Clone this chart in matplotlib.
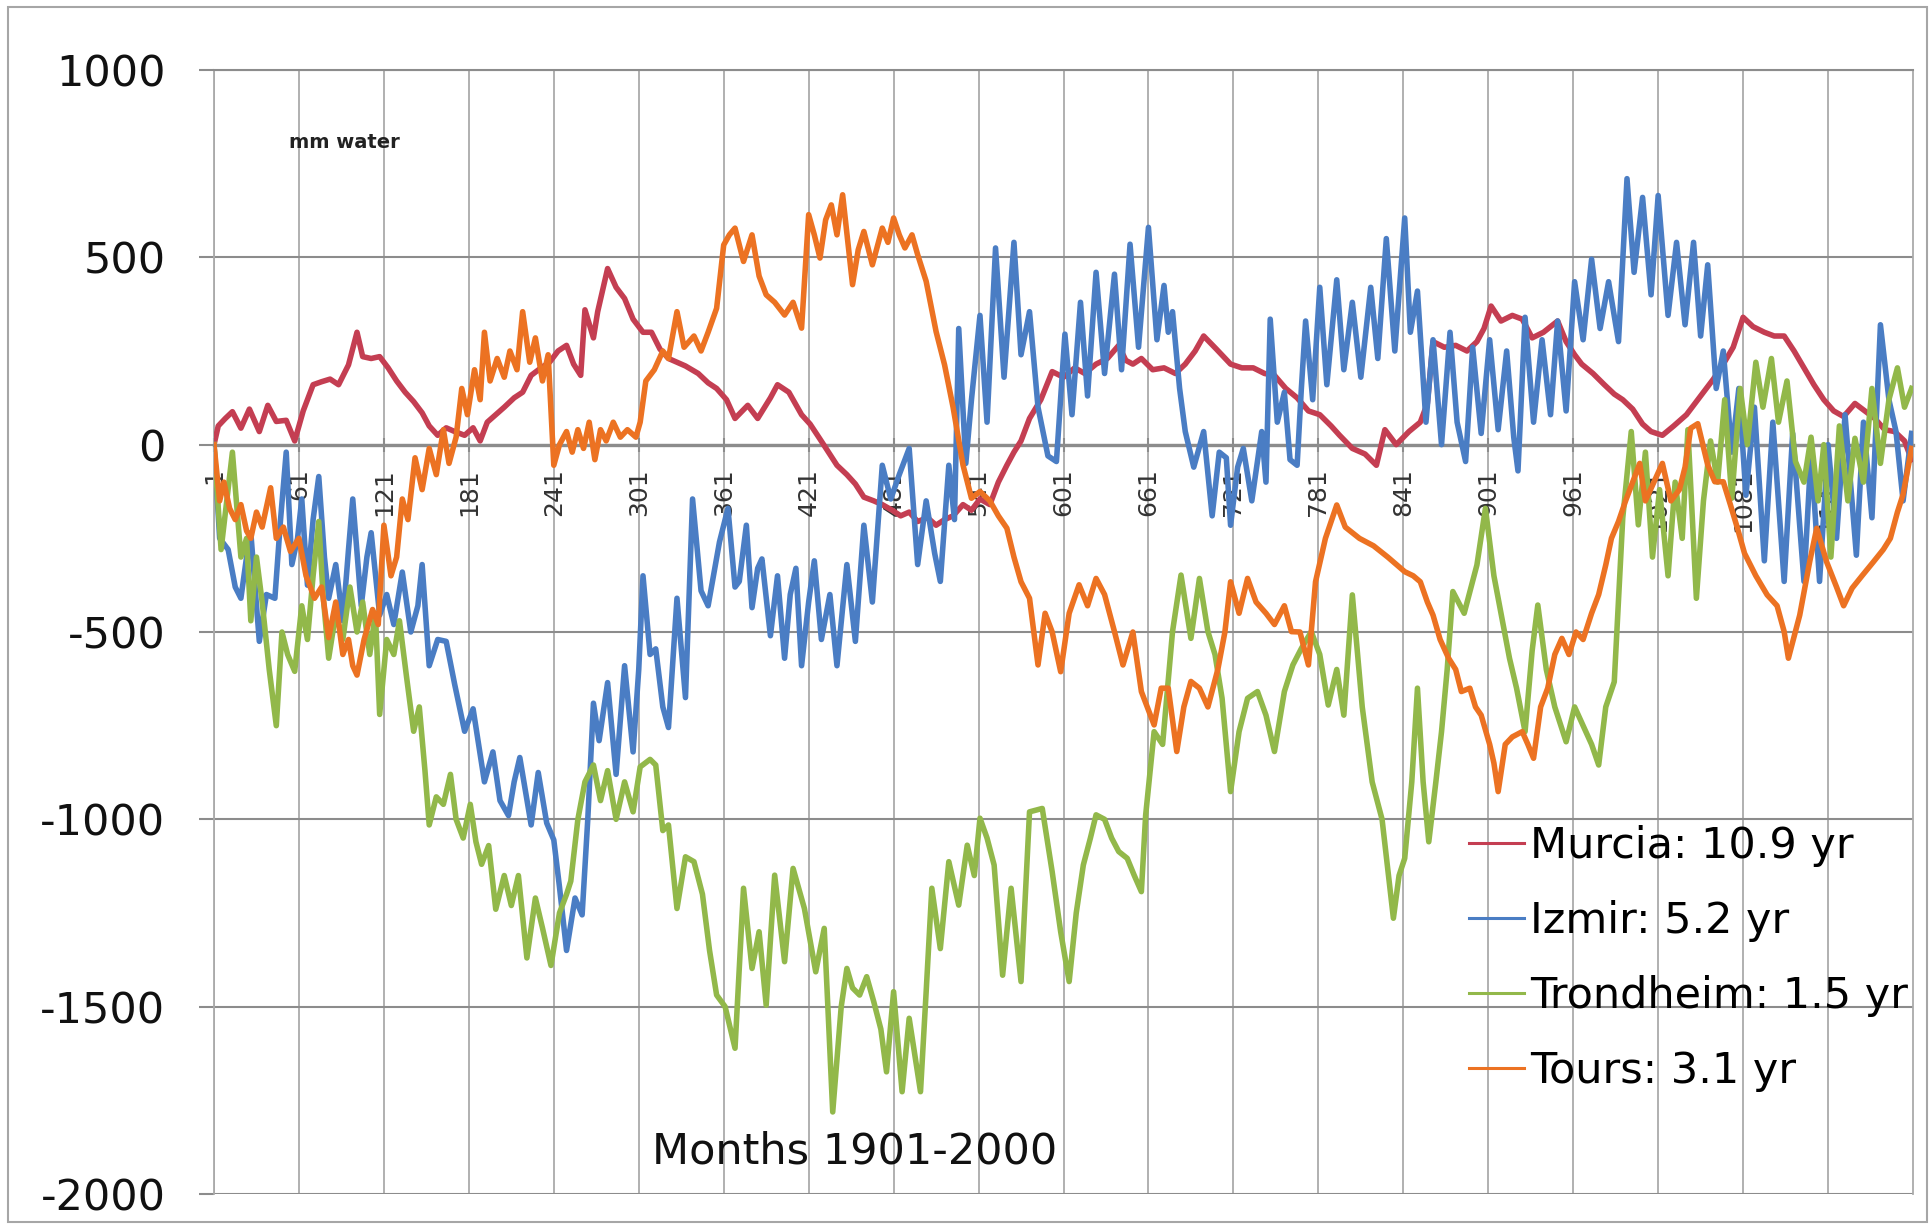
"""
四个站点 1901-2000 年逐月累积降水偏差 (mm water)
Murcia / Izmir / Trondheim / Tours
"""

import matplotlib
matplotlib.use('Agg')
import matplotlib.pyplot as plt
from matplotlib.patches import Rectangle

plt.rcParams['font.family'] = ['DejaVu Sans']
plt.rcParams['axes.unicode_minus'] = False

# ---- 数据：折线拐点 (月份序号, 累积偏差 mm) ----
murcia_month = [1, 4, 9, 14, 20, 26, 33, 39, 45, 52, 58, 64, 71, 77, 83, 89, 96, 102, 106, 112,
                118, 124, 130, 136, 142, 148, 153, 159, 165, 171, 178, 184, 189, 194, 200, 206, 213,
                219, 225, 232, 238, 244, 250, 255, 260, 263, 269, 272, 279, 285, 291, 297, 304, 310,
                316, 322, 334, 343, 350, 356, 363, 369, 378, 385, 394, 399, 407, 416, 422, 429, 435,
                441, 448, 454, 460, 467, 473, 480, 486, 492, 498, 505, 511, 517, 523, 530, 536, 542,
                549, 555, 561, 566, 571, 577, 585, 593, 601, 609, 616, 624, 632, 640, 645, 650, 656,
                664, 672, 680, 687, 694, 700, 709, 719, 727, 735, 743, 750, 758, 766, 774, 782, 790,
                796, 805, 814, 822, 828, 836, 845, 853, 858, 862, 870, 878, 886, 893, 898, 903, 910,
                918, 925, 932, 940, 950, 956, 962, 967, 975, 983, 990, 996, 1003, 1010, 1016, 1024,
                1032, 1041, 1047, 1053, 1060, 1067, 1074, 1081, 1088, 1096, 1103, 1110, 1117, 1124,
                1131, 1138, 1145, 1152, 1160, 1167, 1174, 1181, 1188, 1195, 1200]
murcia_mm = [0, 50, 70, 88, 44, 95, 35, 105, 62, 65, 10, 90, 160, 168, 175, 160, 213, 300, 235, 230,
             235, 205, 170, 140, 115, 85, 50, 25, 45, 35, 25, 45, 10, 60, 80, 100, 125,
             140, 185, 205, 220, 250, 265, 215, 185, 360, 285, 355, 470, 420, 390, 335, 300, 300,
             255, 230, 210, 190, 165, 150, 120, 70, 105, 70, 125, 160, 140, 80, 55, 15, -20,
             -55, -80, -105, -140, -150, -160, -175, -190, -180, -205, -195, -215, -200, -190, -160, -175, -145,
             -160, -100, -55, -20, 10, 70, 120, 195, 180, 205, 190, 215, 230, 265, 225, 215, 230,
             200, 205, 190, 215, 250, 290, 255, 215, 205, 205, 190, 185, 150, 125, 90, 80, 50,
             25, -10, -25, -55, 40, 0, 35, 60, 110, 275, 260, 265, 250, 275, 310, 370, 330,
             345, 335, 285, 300, 330, 275, 240, 215, 190, 160, 135, 120, 95, 55, 35, 25,
             50, 80, 110, 140, 175, 215, 260, 340, 315, 300, 290, 290, 250, 205,
             160, 120, 90, 75, 110, 90, 70, 40, 35, 10, -40]

izmir_month = [1, 5, 11, 16, 20, 24, 27, 33, 38, 44, 48, 52, 56, 60, 63, 67, 71, 75, 79, 82, 87, 92,
               96, 99, 105, 109, 112, 118, 123, 128, 134, 140, 145, 148, 153, 159, 165, 171, 178, 184,
               192, 198, 203, 209, 213, 217, 225, 230, 236, 241, 245, 250, 256, 261, 265, 269, 273,
               279, 285, 291, 297, 301, 304, 309, 313, 318, 322, 328, 334, 339, 345, 350, 358, 364,
               369, 372, 377, 381, 385, 388, 394, 399, 404, 408, 412, 416, 421, 425, 430, 436, 441,
               448, 454, 460, 466, 473, 479, 485, 492, 498, 504, 510, 514, 520, 524, 527, 532, 536,
               542, 547, 553, 559, 566, 571, 577, 583, 590, 596, 602, 607, 613, 618, 624, 630, 637,
               642, 648, 654, 661, 667, 672, 675, 678, 683, 687, 693, 700, 706, 711, 716, 719, 724,
               728, 734, 741, 744, 747, 752, 757, 761, 766, 769, 772, 777, 782, 787, 794, 799, 805,
               811, 818, 823, 829, 835, 842, 846, 851, 857, 862, 868, 874, 879, 885, 890, 896, 902,
               908, 914, 919, 922, 927, 933, 939, 945, 950, 956, 962, 968, 974, 980, 986, 993, 999,
               1004, 1010, 1016, 1021, 1028, 1034, 1040, 1046, 1051, 1056, 1062, 1067, 1073, 1078,
               1083, 1089, 1096, 1102, 1110, 1116, 1124, 1129, 1135, 1141, 1147, 1153, 1161, 1166,
               1172, 1178, 1184, 1189, 1194, 1200]
izmir_mm = [0, -250, -280, -380, -410, -300, -235, -525, -400, -410, -200, -20, -320, -250, -145, -375,
            -200, -85, -300, -410, -320, -470, -280, -145, -430, -300, -235, -455, -400, -480, -340,
            -500, -430, -320, -590, -520, -525, -640, -765, -705, -900, -820, -950, -990, -900, -835,
            -1015, -875, -1010, -1055, -1180, -1350, -1210, -1255, -1000, -690, -790, -635, -880, -590,
            -820, -600, -350, -560, -545, -700, -755, -410, -675, -145, -390, -430, -260, -170, -380,
            -365, -215, -435, -330, -305, -510, -350, -570, -400, -330, -590, -420, -310, -520, -400,
            -590, -320, -525, -215, -420, -55, -145, -80, -10, -320, -150, -290, -365, -55, -200, 310,
            -50, 120, 345, 60, 525, 180, 540, 240, 355, 100, -30, -45, 295, 80, 380, 130, 460, 190,
            455, 200, 535, 260, 580, 280, 425, 300, 355, 150, 35, -60, 35, -190, -20, -35, -215, -60,
            -10, -150, 35, -100, 335, 60, 140, -40, -55, 150, 330, 120, 420, 160, 440, 200, 380,
            180, 420, 230, 550, 250, 605, 300, 410, 60, 280, 0, 300, 60, -45, 260, 30, 280,
            40, 250, 20, -70, 340, 60, 280, 80, 330, 90, 435, 280, 495, 310, 435, 275, 710,
            460, 660, 400, 665, 345, 540, 320, 540, 290, 480, 150, 250, -20, 150,
            -135, 100, -310, 60, -365, 30, -365, -20, -365, 0, -250, 80, -295, 60,
            -195, 320, 120, 35, -150, 30]

trondheim_month = [1, 6, 10, 14, 20, 24, 27, 31, 35, 40, 45, 49, 53, 58, 63, 67, 71, 75, 78, 82, 87,
                   92, 97, 102, 106, 111, 115, 118, 123, 128, 132, 137, 142, 146, 150, 153, 158, 163,
                   168, 172, 177, 182, 186, 190, 195, 200, 206, 211, 216, 222, 228, 233, 239, 245, 250,
                   253, 258, 263, 269, 274, 279, 285, 291, 297, 302, 309, 313, 318, 322, 328, 334, 340,
                   346, 351, 356, 362, 369, 375, 381, 386, 391, 397, 404, 410, 418, 426, 432, 438, 444,
                   448, 452, 457, 462, 467, 472, 476, 481, 487, 492, 500, 504, 508, 514, 520, 527, 533,
                   538, 542, 547, 552, 558, 564, 571, 577, 586, 593, 599, 605, 610, 615, 620, 624, 630,
                   635, 640, 646, 651, 656, 659, 665, 671, 678, 684, 691, 697, 703, 708, 713, 719, 725,
                   731, 738, 744, 750, 757, 763, 769, 776, 782, 788, 794, 799, 805, 812, 819, 826, 834,
                   838, 842, 847, 851, 855, 859, 864, 868, 872, 876, 884, 893, 899, 905, 910, 916, 921,
                   927, 932, 936, 942, 948, 956, 962, 968, 974, 979, 984, 990, 996, 1002, 1007, 1012,
                   1017, 1022, 1028, 1033, 1038, 1042, 1048, 1053, 1058, 1063, 1068, 1073, 1079, 1084,
                   1090, 1095, 1101, 1106, 1112, 1118, 1124, 1129, 1134, 1138, 1143, 1149, 1155, 1160,
                   1166, 1172, 1178, 1184, 1190, 1195, 1200]
trondheim_mm = [0, -280, -150, -20, -300, -250, -470, -300, -420, -600, -750, -500, -560, -605, -430,
                -520, -350, -205, -400, -570, -450, -520, -380, -500, -420, -560, -450, -720, -520,
                -560, -470, -620, -765, -700, -870, -1015, -940, -960, -880, -1000, -1050, -960, -1060,
                -1120, -1070, -1240, -1150, -1230, -1150, -1370, -1210, -1290, -1390, -1250, -1200,
                -1165, -1000, -900, -855, -950, -870, -1000, -900, -980, -860, -840, -855, -1030,
                -1015, -1238, -1100, -1113, -1200, -1350, -1469, -1500, -1611, -1184, -1398, -1300,
                -1496, -1149, -1380, -1131, -1238, -1407, -1291, -1781, -1500, -1398, -1450, -1469,
                -1420, -1487, -1560, -1674, -1460, -1727, -1531, -1727, -1460, -1184, -1345, -1113,
                -1229, -1069, -1150, -997, -1050, -1122, -1416, -1184, -1433, -980, -971, -1140, -1300,
                -1433, -1250, -1122, -1050, -988, -1000, -1050, -1086, -1104, -1150, -1193, -990, -766,
                -800, -499, -348, -517, -357, -499, -560, -677, -926, -766, -677, -659, -722, -819,
                -659, -588, -544, -499, -560, -695, -600, -722, -401, -700, -900, -1000, -1264, -1150,
                -1104, -900, -650, -900, -1060, -900, -766, -600, -392, -450, -321, -170, -350, -450,
                -570, -650, -766, -550, -428, -600, -700, -793, -700, -750, -800, -855, -700, -633,
                -196, 35, -214, -20, -300, -120, -350, -100, -250, 40, -410, -150, 10, -100, 120,
                -143, 150, 0, 220, 100, 230, 60, 170, -45, -100, 20, -150, 0, -300, 50, -150, 17,
                -100, 150, -50, 120, 205, 100, 150]

tours_month = [1, 5, 8, 12, 16, 20, 24, 27, 31, 35, 41, 45, 50, 55, 61, 66, 72, 77, 82, 87, 92, 96,
               99, 102, 107, 113, 117, 121, 126, 130, 134, 138, 143, 148, 153, 158, 163, 167, 172, 176,
               180, 185, 189, 192, 196, 201, 206, 210, 215, 219, 224, 228, 233, 237, 241, 245, 250,
               254, 258, 262, 266, 270, 274, 278, 283, 288, 293, 299, 302, 306, 312, 318, 322, 328,
               333, 340, 345, 350, 356, 361, 365, 369, 375, 381, 386, 391, 397, 404, 410, 416, 421,
               425, 429, 433, 437, 441, 445, 452, 456, 460, 466, 473, 477, 481, 485, 489, 494, 498,
               504, 511, 517, 523, 530, 536, 542, 549, 555, 561, 566, 571, 577, 583, 588, 593, 599,
               605, 612, 618, 624, 630, 637, 643, 650, 656, 665, 670, 675, 681, 686, 691, 697, 703,
               710, 715, 719, 725, 731, 737, 744, 750, 757, 762, 768, 774, 779, 786, 794, 800, 810,
               820, 830, 842, 848, 853, 858, 862, 867, 873, 878, 882, 888, 892, 896, 902, 905, 908,
               913, 918, 925, 929, 933, 938, 943, 948, 953, 958, 963, 968, 974, 979, 984, 988, 993,
               998, 1003, 1008, 1012, 1018, 1024, 1030, 1036, 1040, 1044, 1049, 1056, 1061, 1067,
               1072, 1077, 1082, 1090, 1098, 1105, 1110, 1113, 1121, 1128, 1133, 1140, 1147, 1152,
               1158, 1165, 1173, 1180, 1185, 1190, 1194, 1200]
tours_mm = [0, -150, -100, -170, -200, -160, -230, -250, -180, -220, -115, -250, -220, -285, -250,
            -350, -410, -380, -515, -420, -560, -520, -590, -615, -520, -440, -480, -215, -350, -300,
            -145, -200, -35, -120, -10, -80, 40, -50, 20, 150, 80, 200, 120, 300, 170, 230, 180,
            250, 200, 355, 220, 285, 170, 240, -55, 0, 35, -20, 40, -10, 60, -40, 40, 10, 60, 20,
            40, 20, 60, 170, 200, 250, 230, 355, 260, 290, 250, 300, 364, 533, 560, 578, 489, 560,
            450, 400, 380, 346, 380, 311, 614, 560, 498, 600, 640, 560, 667, 427, 520, 569, 480,
            578, 540, 605, 560, 525, 560, 507, 436, 302, 213, 100, -54, -143, -125, -150, -190,
            -223, -300, -366, -410, -588, -450, -500, -606, -450, -374, -430, -357, -400, -499,
            -588, -500, -659, -748, -650, -650, -819, -700, -632, -650, -700, -600, -500, -366,
            -450, -357, -420, -450, -480, -430, -499, -500, -588, -366, -250, -161, -220, -250,
            -270, -300, -339, -350, -366, -420, -455, -520, -570, -600, -659, -650, -700, -722,
            -800, -850, -926, -800, -780, -766, -800, -837, -700, -650, -560, -517, -560, -500,
            -520, -450, -400, -321, -250, -205, -150, -100, -50, -150, -100, -50, -150, -120,
            -60, 44, 56, -54, -99, -99, -160, -223, -290, -350, -401, -430, -499, -570, -455,
            -313, -223, -313, -380, -430, -383, -350, -313, -280, -250, -180, -133, -10]

series_names = ['Murcia: 10.9 yr', 'Izmir: 5.2 yr', 'Trondheim: 1.5 yr', 'Tours: 3.1 yr']
series_colors = ['#C43E52', '#4A7DC4', '#92B84A', '#EC7222']

x_ticks = [1, 61, 121, 181, 241, 301, 361, 421, 481, 541, 601, 661, 721, 781, 841, 901, 961,
           1021, 1081, 1141]
y_ticks = [1000, 500, 0, -500, -1000, -1500, -2000]


def plot_cumulative():
    """
    画四条累积偏差曲线
    """
    fig = plt.figure(figsize=(19.3, 12.28), dpi=100)
    ax = fig.add_axes([214 / 1930, 34 / 1228, 1699 / 1930, 1124 / 1228])

    all_months = [murcia_month, izmir_month, trondheim_month, tours_month]
    all_values = [murcia_mm, izmir_mm, trondheim_mm, tours_mm]
    for months, values, name, color in zip(all_months, all_values, series_names, series_colors):
        ax.plot(months, values, color=color, linewidth=4.0, label=name, zorder=3,
                solid_joinstyle='round')

    ax.set_xlim(1, 1201)
    ax.set_ylim(-2000, 1000)

    # 横轴放在 0 处
    ax.spines['bottom'].set_position(('data', 0))
    ax.spines['bottom'].set_color('#8C8C8C')
    ax.spines['bottom'].set_linewidth(2.4)
    ax.spines['top'].set_color('#8C8C8C')
    ax.spines['top'].set_linewidth(1.5)
    for side in ['left', 'right']:
        ax.spines[side].set_color('#AAAAAA')
        ax.spines[side].set_linewidth(1.3)

    ax.set_xticks(x_ticks)
    ax.set_xticklabels([str(t) for t in x_ticks], rotation=90)
    ax.tick_params(axis='x', direction='inout', length=10, width=1.5, color='#8C8C8C',
                   pad=12, labelsize=18, labelcolor='#333333')
    ax.set_yticks(y_ticks)
    ax.set_yticklabels([str(t) for t in y_ticks])
    ax.tick_params(axis='y', direction='out', length=11, width=1.5, color='#8C8C8C',
                   pad=24, labelsize=31, labelcolor='#111111')

    ax.set_axisbelow(True)
    ax.grid(axis='x', color='#AAAAAA', linewidth=1.3)
    ax.grid(axis='y', color='#8C8C8C', linewidth=1.5)

    # 图例放在右下角
    leg = fig.legend(loc='upper left', bbox_to_anchor=(1469 / 1930, 1 - 825 / 1228),
                     frameon=False, fontsize=31, borderpad=0, borderaxespad=0,
                     handlelength=1.28, handletextpad=0.14, labelspacing=0.77)
    for line in leg.get_lines():
        line.set_linewidth(2.2)

    fig.text(289 / 1930, 1 - 142 / 1228, 'mm water', fontsize=14, fontweight='bold',
             color='#222222', ha='left', va='center')
    fig.text(652 / 1930, 1 - 1151 / 1228, 'Months 1901-2000', fontsize=31,
             color='#111111', ha='left', va='center')

    # 整个图表区的外框
    fig.patches.append(Rectangle((8 / 1930, 1 - 1222 / 1228), 1919 / 1930, 1215 / 1228,
                                 transform=fig.transFigure, fill=False,
                                 edgecolor='#A6A6A6', linewidth=1.5))

    fig.savefig('out.png', dpi=100)


if __name__ == "__main__":
    plot_cumulative()
